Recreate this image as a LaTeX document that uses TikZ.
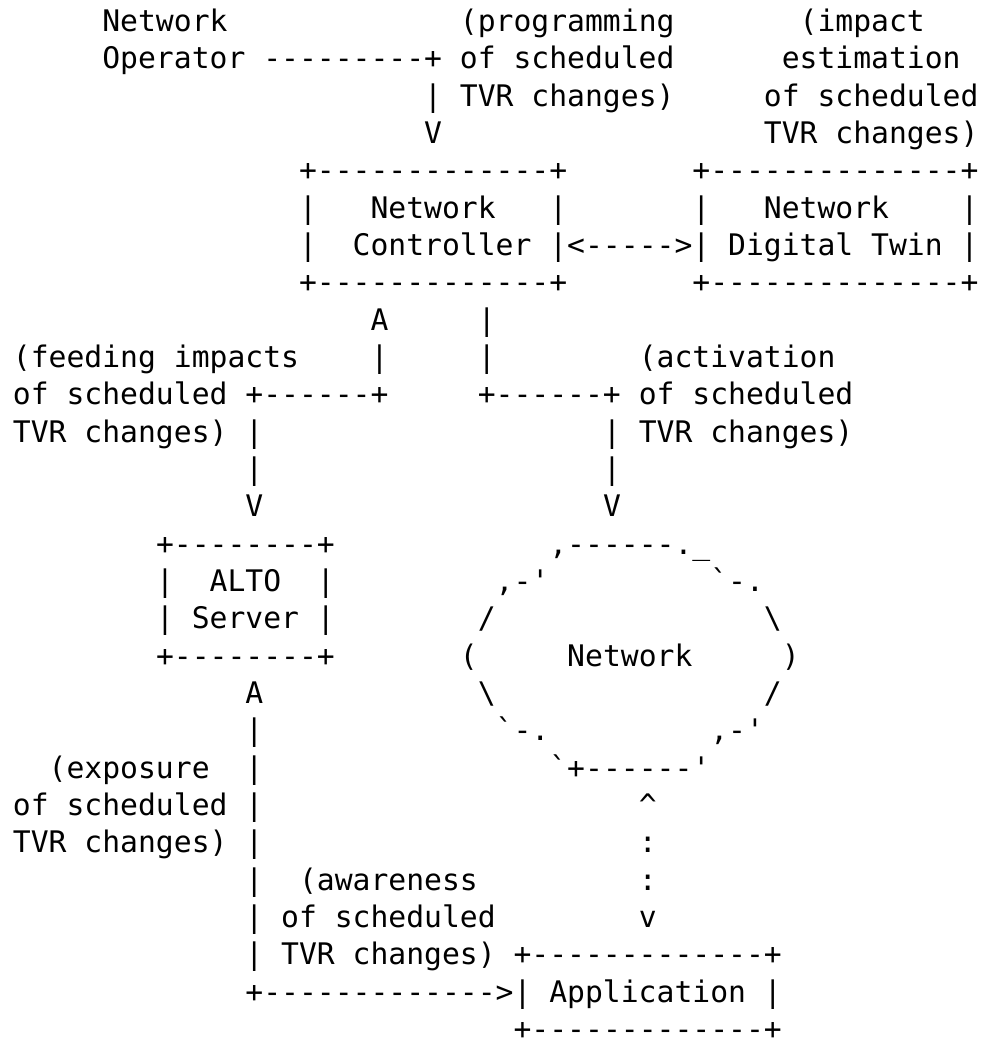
\documentclass[tikz,border=0pt]{standalone}
\usepackage{fontspec}
\setmonofont{DejaVu Sans Mono}
\tikzset{ch/.style={anchor=base west, inner sep=0pt, outer sep=0pt, text=black,
  font=\ttfamily\fontsize{14.85pt}{18pt}\selectfont}}
\newcommand\seg[4]{\node[ch] (#1) at ({6.48+8.94*#3},{-15.8-18.665*#2}) {#4};}
\begin{document}
\begin{tikzpicture}[x=1pt,y=1pt]
\fill[white] (0,0) rectangle (492,-520);
\useasboundingbox (0,0) rectangle (492,-520);
% top: operator and labels
\seg{opA}{0}{5}{Network}
\seg{progA}{0}{25}{(programming}
\seg{impA}{0}{44}{(impact}
\seg{opB}{1}{5}{Operator ---------+ of scheduled}
\seg{impB}{1}{43}{estimation}
\seg{progB}{2}{23}{| TVR changes)}
\seg{impC}{2}{42}{of scheduled}
\seg{opArr}{3}{23}{V}
\seg{impD}{3}{42}{TVR changes)}
% controller and twin
\seg{ncTop}{4}{16}{+-------------+}
\seg{dtTop}{4}{38}{+--------------+}
\seg{ncL}{5}{16}{|}
\seg{ncA}{5}{20}{Network}
\seg{ncR}{5}{30}{|}
\seg{dtL}{5}{38}{|}
\seg{dtA}{5}{42}{Network}
\seg{dtR}{5}{53}{|}
\seg{ncL2}{6}{16}{|}
\seg{ncB}{6}{19}{Controller |<----->| Digital Twin |}
\seg{ncBot}{7}{16}{+-------------+}
\seg{dtBot}{7}{38}{+--------------+}
% feeding / activation
\seg{fdArr}{8}{20}{A}
\seg{acL0}{8}{26}{|}
\seg{fdA}{9}{0}{(feeding impacts}
\seg{fdL1}{9}{20}{|}
\seg{acL1}{9}{26}{|}
\seg{acA}{9}{35}{(activation}
\seg{fdB}{10}{0}{of scheduled +------+}
\seg{acB}{10}{26}{+------+ of scheduled}
\seg{fdC}{11}{0}{TVR changes) |}
\seg{acC}{11}{33}{| TVR changes)}
\seg{fdL2}{12}{13}{|}
\seg{acL2}{12}{33}{|}
\seg{fdV}{13}{13}{V}
\seg{acV}{13}{33}{V}
% ALTO server and network cloud
\seg{asTop}{14}{8}{+--------+}
\seg{nwT}{14}{30}{,------.\_}
\seg{asL}{15}{8}{|}
\seg{asA}{15}{11}{ALTO}
\seg{asR}{15}{17}{|}
\seg{nwTL}{15}{27}{,-'}
\seg{nwTR}{15}{39}{`-.}
\seg{asB}{16}{8}{| Server |}
\seg{nwUL}{16}{26}{/}
\seg{nwUR}{16}{42}{\textbackslash}
\seg{asBot}{17}{8}{+--------+}
\seg{nwLP}{17}{25}{(}
\seg{nwN}{17}{31}{Network}
\seg{nwRP}{17}{43}{)}
\seg{exArr}{18}{13}{A}
\seg{nwDL}{18}{26}{\textbackslash}
\seg{nwDR}{18}{42}{/}
\seg{exL0}{19}{13}{|}
\seg{nwBL}{19}{27}{`-.}
\seg{nwBR}{19}{39}{,-'}
\seg{exA}{20}{2}{(exposure}
\seg{exL1}{20}{13}{|}
\seg{nwB}{20}{30}{`+------'}
\seg{exB}{21}{0}{of scheduled |}
\seg{apUp}{21}{35}{\textasciicircum}
\seg{exC}{22}{0}{TVR changes) |}
\seg{apD1}{22}{35}{:}
\seg{exL2}{23}{13}{|}
\seg{awA}{23}{16}{(awareness}
\seg{apD2}{23}{35}{:}
\seg{awB}{24}{13}{| of scheduled}
\seg{apDn}{24}{35}{v}
\seg{awC}{25}{13}{| TVR changes) +-------------+}
\seg{apB}{26}{13}{+------------->| Application |}
\seg{apBot}{27}{28}{+-------------+}
\end{tikzpicture}
\end{document}
